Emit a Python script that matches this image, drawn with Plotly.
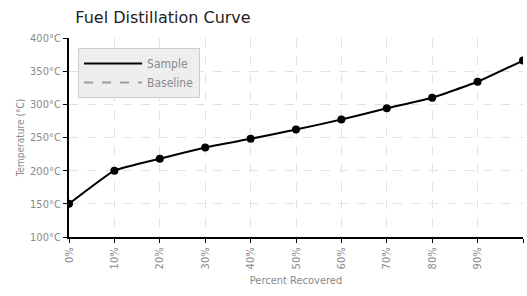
import plotly.graph_objects as go

pct = [0, 10, 20, 30, 40, 50, 60, 70, 80, 90, 100]
sample = [150, 200, 218, 235, 248, 262, 277, 294, 310, 334, 366]
y_ticks = [100, 150, 200, 250, 300, 350, 400]
y_labels = [f"{v}°C" for v in y_ticks]
x_labels = [f"{v}%" for v in pct]

font_c = "DejaVu Sans Condensed, Liberation Sans Narrow, sans-serif"
gray = "#8a8a8a"

fig = go.Figure()
fig.add_trace(go.Scatter(x=pct, y=sample, name="Sample", mode="lines",
                         line=dict(color="black", width=2, shape="spline", smoothing=0.35)))
fig.add_trace(go.Scatter(x=pct, y=sample, name="Sample pts", mode="markers", showlegend=False,
                         marker=dict(size=8, color="black")))
fig.add_trace(go.Scatter(x=[None], y=[None], name="Baseline", mode="lines",
                         line=dict(color="#999999", width=2, dash="dash")))

fig.update_layout(
    width=527, height=296,
    margin=dict(l=69, r=4, t=38, b=59),
    plot_bgcolor="white", paper_bgcolor="white",
    title=dict(text="Fuel Distillation Curve", x=0.143, xanchor="left", y=0.94, yanchor="middle",
               font=dict(family="DejaVu Sans", size=16, color="#222")),
    font=dict(family=font_c, color=gray, size=11),
    legend=dict(x=0.02, y=0.95, xanchor="left", yanchor="top", bgcolor="#eeeeee",
                bordercolor="#cccccc", borderwidth=1, itemwidth=58,
                font=dict(family=font_c, size=12, color=gray),
                tracegroupgap=0),
    showlegend=True,
)
fig.update_xaxes(range=[0, 100], tickmode="array", tickvals=pct, ticktext=x_labels,
                 tickangle=-90, showline=True, linecolor="black", linewidth=2,
                 ticks="outside", tickcolor="black", ticklen=4,
                 showgrid=True, gridcolor="#e2e2e2", griddash="dash", zeroline=False,
                 title=dict(text="Percent Recovered", font=dict(size=11, color=gray), standoff=8))
fig.update_yaxes(range=[100, 400], tickmode="array", tickvals=y_ticks, ticktext=y_labels,
                 showline=True, linecolor="black", linewidth=2,
                 ticks="outside", tickcolor="black", ticklen=4,
                 showgrid=True, gridcolor="#e2e2e2", griddash="dash", zeroline=False,
                 title=dict(text="Temperature (°C)", font=dict(size=10, color=gray), standoff=4))
fig.write_html("out.html", config={"displayModeBar": False},
               post_script="document.body.style.margin='0';")
